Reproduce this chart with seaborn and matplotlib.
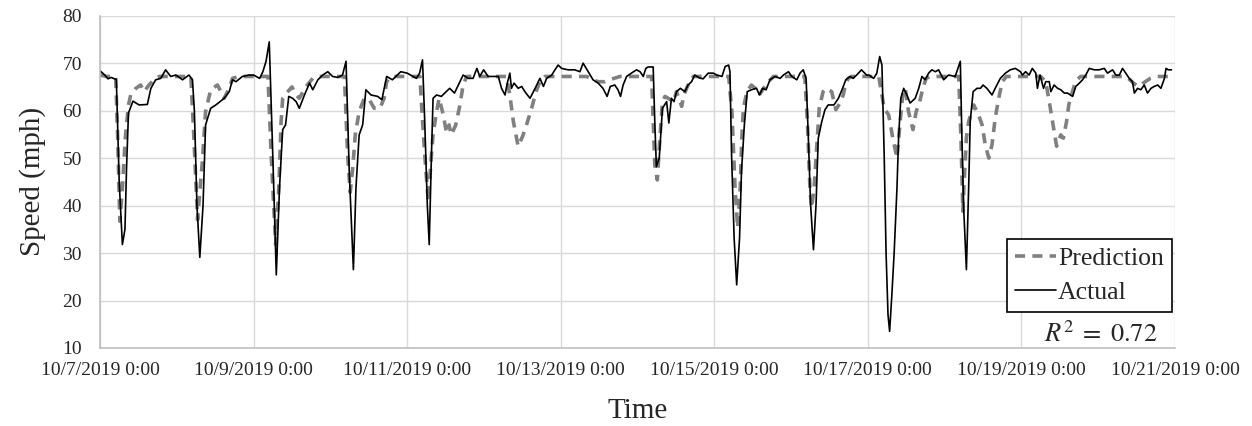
import numpy as np
import pandas as pd
import matplotlib
matplotlib.use("Agg")
import matplotlib.pyplot as plt
from matplotlib.lines import Line2D
import seaborn as sns

# ---- data (hours since 10/7/2019 0:00, speed in mph) ----
actual_hours = [0, 1.5, 2.5, 3.5, 4.5, 5.1, 6.0, 7.0, 7.8, 8.3, 8.9, 10.3, 12.2, 14.8, 15.9, 17.4, 19.0,
                20.5, 22.1, 23.7, 25.8, 27.8, 28.9, 29.5, 30.3, 31.2, 32.2, 33.0, 34.6, 36.2, 38.8, 40.4,
                41.4, 42.5, 44.5, 46.6, 48.0, 49.9, 50.9, 51.9, 52.9, 54.0, 55.1, 56.1, 57.1, 58.0, 59.0,
                60.2, 61.3, 62.3, 63.9, 65.5, 66.5, 68.1, 69.6, 71.2, 72.7, 74.3, 75.8, 76.9, 77.9, 79.2,
                80.0, 81.0, 82.1, 83.1, 84.7, 86.8, 88.1, 89.6, 91.4, 94.0, 96.0, 98.9, 99.9, 100.8, 101.5,
                102.3, 102.9, 103.6, 104.1, 105.2, 106.7, 108.2, 109.3, 110.8, 112.0, 113.5, 115.1, 116.6,
                117.8, 118.7, 119.9, 121.3, 122.9, 124.5, 125.5, 126.6, 127.3, 128.1, 128.6, 129.4, 130.7,
                131.8, 132.8, 134.4, 136.0, 137.5, 138.6, 139.6, 141.2, 142.2, 143.2, 144.3, 146.3, 148.4,
                150.0, 151.0, 152.6, 154.1, 155.7, 157.2, 158.5, 159.5, 160.9, 161.9, 162.7, 163.5, 164.6,
                166.1, 167.7, 168.8, 169.8, 170.6, 171.3, 172.9, 173.4, 173.9, 174.8, 175.8, 177.1, 177.8,
                178.6, 179.4, 180.2, 181.4, 182.8, 183.8, 184.9, 185.9, 187.3, 188.5, 190.1, 191.7, 192.8,
                194.4, 195.4, 196.5, 196.9, 197.4, 198.2, 199.0, 199.9, 200.5, 201.4, 202.3, 203.6, 205.2,
                206.1, 207.1, 208.2, 209.4, 211.0, 212.6, 213.6, 215.2, 216.2, 217.8, 218.8, 219.8, 220.7,
                221.4, 222.1, 223.0, 223.8, 224.5, 225.6, 226.6, 227.6, 229.4, 230.8, 232.1, 233.1, 234.4,
                235.4, 236.5, 238.0, 239.6, 240.3, 241.8, 242.8, 243.7, 244.4, 245.1, 245.7, 246.3, 246.8,
                247.5, 248.2, 249.1, 249.6, 250.3, 251.2, 252.2, 253.2, 254.8, 255.9, 256.9, 257.9, 259.0,
                260.0, 261.1, 262.1, 263.7, 265.2, 267.3, 268.9, 269.4, 269.9, 270.8, 271.5, 272.0, 272.9,
                274.1, 275.2, 276.0, 277.2, 278.8, 279.8, 281.4, 283.0, 284.5, 286.1, 287.7, 288.3, 289.3,
                290.4, 291.4, 292.5, 293.0, 293.8, 294.9, 295.6, 296.7, 297.2, 298.2, 299.3, 300.3, 301.4,
                302.4, 304.0, 305.0, 306.1, 307.1, 308.1, 309.2, 310.8, 312.3, 313.9, 314.9, 316.5, 317.5,
                318.6, 319.6, 320.6, 321.7, 322.7, 323.3, 324.3, 325.3, 326.4, 327.4, 328.5, 329.5, 330.6,
                331.6, 332.7, 333.2, 333.9, 334.9]
actual_speed = [68.4, 67.5, 66.7, 67.0, 66.7, 66.6, 45, 31.8, 35, 48, 59.5, 62.0, 61.2, 61.3, 64.7, 66.5, 66.8,
                68.6, 67.2, 67.5, 66.5, 67.5, 66.5, 60, 40, 29.1, 40, 57.0, 60.5, 61.2, 62.6, 64.0,
                66.5, 66.1, 67.2, 67.5, 67.5, 66.8, 68.2, 70.4, 74.5, 50.7, 25.4, 43.7, 56.0, 57.0, 63.0,
                62.6, 61.9, 60.5, 63.3, 65.8, 64.4, 66.5, 67.5, 68.2, 67.2, 67.0, 67.5, 70.4, 47.2, 26.5,
                43.7, 54.9, 57.0, 64.4, 63.3, 63.0, 62.3, 67.2, 66.5, 68.2, 67.9, 66.8, 67.9, 70.7, 57.7,
                40.2, 31.8, 50.7, 62.6, 63.3, 63.0, 64.0, 64.7, 63.7, 65.4, 67.5, 66.8, 66.8,
                68.9, 67.2, 68.6, 67.2, 67.2, 67.2, 64.7, 63.3, 65.8, 67.9, 64.7, 65.8, 64.7,
                65.1, 64.0, 62.6, 64.7, 66.8, 65.1, 66.8, 67.5, 68.6, 69.6, 68.9, 68.6, 68.6,
                68.2, 70.0, 68.2, 66.5, 65.8, 64.7, 63.0, 65.1, 65.4, 64.4, 63.0, 65.4, 67.2,
                67.9, 68.6, 68.2, 67.2, 68.9, 69.2, 69.2, 57.7, 48.2, 50.0, 60.5, 61.9, 57.4,
                62.6, 61.9, 64.0, 64.7, 64.0, 65.4, 66.1, 67.5, 66.9, 66.7, 67.9, 67.9, 67.5,
                67.2, 69.3, 69.6, 68.2, 50.7, 33.2, 23.3, 33.2, 47.2, 57.0, 64.0, 64.4, 64.7,
                63.3, 64.7, 64.4, 66.5, 67.2, 66.8, 67.5, 68.2, 67.2, 66.5, 67.9, 68.6, 66.8,
                54.2, 40.2, 30.7, 40.2, 54.2, 57.7, 60.2, 61.2, 61.2, 62.6, 64.7, 66.5, 67.2,
                66.8, 67.5, 68.6, 67.5, 67.5, 66.8, 67.9, 71.4, 69.6, 50.7, 29.8, 17.0, 13.5,
                21.2, 29.8, 43.7, 54.2, 62.6, 64.7, 63.3, 61.6, 62.6, 64.7, 67.2, 66.5, 67.9,
                68.6, 68.2, 68.6, 66.5, 67.5, 67.2, 70.4, 54.2, 40.2, 26.5, 43.7, 57.7, 64.0,
                64.7, 64.7, 65.4, 64.7, 63.3, 64.7, 66.8, 67.9, 68.6, 68.9, 68.2, 67.5, 68.2,
                67.5, 68.9, 67.9, 64.7, 67.5, 64.7, 66.1, 66.1, 64.0, 65.4, 64.7, 64.4, 63.7,
                63.7, 63.0, 65.1, 65.8, 66.5, 67.5, 68.9, 68.6, 68.6, 68.9, 67.9, 68.6, 67.5,
                67.5, 68.9, 67.9, 66.8, 66.1, 63.7, 64.7, 64.4, 65.4, 63.7, 64.7, 65.1, 65.4,
                64.7, 66.8, 68.9, 68.6, 68.6]

pred_hours = [0, 2.0, 4.9, 5.5, 6.2, 7.0, 7.9, 8.9, 9.6, 11.2, 12.7, 13.8, 15.3, 16.9, 18.5, 28.4, 29.3,
              30.5, 31.2, 32.0, 33.0, 34.6, 36.7, 37.8, 38.8, 40.4, 41.4, 43.5, 52.5, 53.5, 54.9, 55.9,
              56.6, 57.1, 58.7, 60.0, 61.3, 62.3, 64.3, 66.5, 68.5, 76.4, 77.4, 78.2, 79.0, 79.8, 81.0,
              82.6, 84.2, 85.7, 87.5, 88.8, 89.6, 91.0, 100.0, 100.5, 101.5, 102.6, 103.6, 104.1, 105.2,
              106.0, 107.3, 108.3, 109.1, 109.8, 111.2, 112.5, 113.5, 114.6, 127.0, 128.1, 129.2, 130.7,
              132.1, 133.3, 134.9, 136.3, 137.5, 139.1, 152.1, 154.1, 155.7, 157.8, 159.3, 162.5, 172.4,
              172.9, 173.4, 174.2, 175.0, 175.8, 176.6, 177.6, 179.2, 180.2, 181.8, 182.5, 183.8, 185.4,
              196.5, 197.5, 198.5, 199.3, 200.1, 200.6, 201.1, 202.2, 203.6, 204.8, 206.1, 207.4, 208.9,
              210.5, 220.3, 221.1, 221.9, 222.4, 223.2, 224.0, 224.8, 226.0, 227.0, 228.7, 230.0, 231.3,
              232.3, 233.1, 233.9, 235.0, 243.4, 244.4, 245.1, 246.5, 247.8, 249.1, 250.1, 251.0, 251.7,
              252.7, 254.1, 255.1, 256.2, 257.2, 258.2, 259.5, 268.4, 269.1, 269.5, 269.7, 270.1, 270.8,
              271.5, 273.1, 274.6, 275.7, 276.7, 277.8, 278.8, 279.8, 280.9, 282.0, 283.3, 294.0, 295.6,
              296.7, 297.7, 298.4, 299.0, 300.3, 301.1, 302.1, 302.8, 303.6, 304.6, 305.4, 306.5, 319.9,
              321.4, 323.0, 324.6, 326.7, 328.3, 330.3, 334.5]
pred_speed = [67.5, 67.2, 67.2, 55, 36.7, 43.7, 54.2, 61.2, 63.3, 64.7, 65.4, 64.0, 65.4, 66.5, 67.2, 67.2, 55,
              37.0, 43, 49.3, 59.8, 64.4, 65.4, 64.0, 62.6, 64.7, 66.8, 67.2, 67.2, 50.7, 31.8, 43.7,
              57.7, 62.6, 64.0, 65.0, 63.3, 62.6, 65.0, 66.8, 67.2, 67.2, 50.7, 42.8, 48, 55.0, 59.8,
              62.6, 62.3, 60.5, 60.5, 62.6, 66.1, 67.2, 67.2, 61.2, 50.7, 40.9, 50.7, 54.9, 59.8,
              62.6, 59.1, 55.3, 57.0, 54.9, 57.0, 61.2, 65.4, 67.2, 67.2, 63.3, 57.7, 52.5,
              54.6, 57.0, 60.5, 64.0, 66.1, 67.2, 67.2, 66.5, 66.1, 66.1, 66.5, 67.2, 67.2,
              57.7, 48.6, 45.4, 54.2, 61.9, 63.0, 62.6, 61.9, 64.0, 60.9, 63.3, 65.4, 67.2,
              67.2, 59.8, 43.7, 35.3, 43.7, 54.2, 60.5, 64.0, 65.4, 64.7, 63.3, 64.7, 66.1,
              67.2, 67.2, 57.7, 43.7, 39.5, 43.7, 52.1, 60.5, 64.0, 64.7, 64.0, 60.2, 61.6,
              63.3, 65.8, 66.8, 67.2, 67.2, 63.3, 60.5, 59.1, 54.2, 50.0, 57.7, 64.0, 64.7,
              59.8, 56.0, 59.8, 61.9, 64.7, 66.8, 67.2, 67.2, 54.2, 43.7, 38.8, 45, 54.2,
              57.7, 61.2, 59.1, 57.0, 52.8, 50.0, 52.8, 58.4, 62.6, 66.1, 67.2, 67.2, 66.1,
              61.9, 57.7, 54.9, 52.5, 54.9, 54.2, 57.7, 61.2, 63.3, 65.4, 66.5, 67.2, 67.2,
              66.8, 65.8, 65.1, 66.1, 66.8, 67.2, 67.2]

tick_hours = [0, 48, 96, 144, 192, 240, 288, 336]
tick_labels = ["10/7/2019 0:00", "10/9/2019 0:00", "10/11/2019 0:00", "10/13/2019 0:00",
               "10/15/2019 0:00", "10/17/2019 0:00", "10/19/2019 0:00", "10/21/2019 0:00"]
y_ticks = [10, 20, 30, 40, 50, 60, 70, 80]
r2_text = r"$R^2\;=\;0.72$"

# ---- style ----
sns.set_theme(style="white")
plt.rcParams["font.family"] = ["Liberation Serif", "DejaVu Serif"]
plt.rcParams["mathtext.fontset"] = "stix"

fig = plt.figure(figsize=(12.52, 4.26), dpi=100)
ax = fig.add_axes([100 / 1252, 1 - 348 / 426, 1075 / 1252, (348 - 15.7) / 426])

pred_df = pd.DataFrame({"hours": pred_hours, "speed": pred_speed})
act_df = pd.DataFrame({"hours": actual_hours, "speed": actual_speed})

pred_color = "#808080"
sns.lineplot(data=pred_df, x="hours", y="speed", ax=ax, color=pred_color,
             linewidth=2.6, linestyle=(0, (2.8, 2.0)), sort=False, estimator=None)
sns.lineplot(data=act_df, x="hours", y="speed", ax=ax, color="black",
             linewidth=1.2, sort=False, estimator=None)

ax.set_xlim(0, 336)
ax.set_ylim(10, 80)
ax.set_xticks(tick_hours)
ax.set_xticklabels(tick_labels, fontsize=14)
ax.set_yticks(y_ticks)
ax.set_yticklabels([str(v) for v in y_ticks], fontsize=14)
ax.tick_params(axis="both", length=0)
ax.tick_params(axis="x", pad=10)
ax.tick_params(axis="y", pad=13)

ax.grid(True, color="#d9d9d9", linewidth=1.0)
ax.set_axisbelow(True)
for side in ["top", "right"]:
    ax.spines[side].set_visible(False)
for side in ["left", "bottom"]:
    ax.spines[side].set_color("#bfbfbf")
    ax.spines[side].set_linewidth(1.2)

ax.set_xlabel("Time", fontsize=21, labelpad=14)
ax.set_ylabel("Speed (mph)", fontsize=21, labelpad=12)

handles = [Line2D([], [], color=pred_color, linewidth=2.6, linestyle=(0, (2.8, 2.0))),
           Line2D([], [], color="black", linewidth=1.2)]
leg = ax.legend(handles, ["Prediction", "Actual"], loc="lower right",
                bbox_to_anchor=(0.997, 0.108), borderaxespad=0, fontsize=18.5,
                frameon=True, fancybox=False, handlelength=1.6, handletextpad=0.1,
                borderpad=0.3, labelspacing=0.45)
leg.get_frame().set_edgecolor("black")
leg.get_frame().set_linewidth(1.2)
leg.get_frame().set_alpha(1)

ax.text(0.984, 0.042, r2_text, transform=ax.transAxes, ha="right", va="center", fontsize=19)

fig.savefig("out.png", dpi=100)
